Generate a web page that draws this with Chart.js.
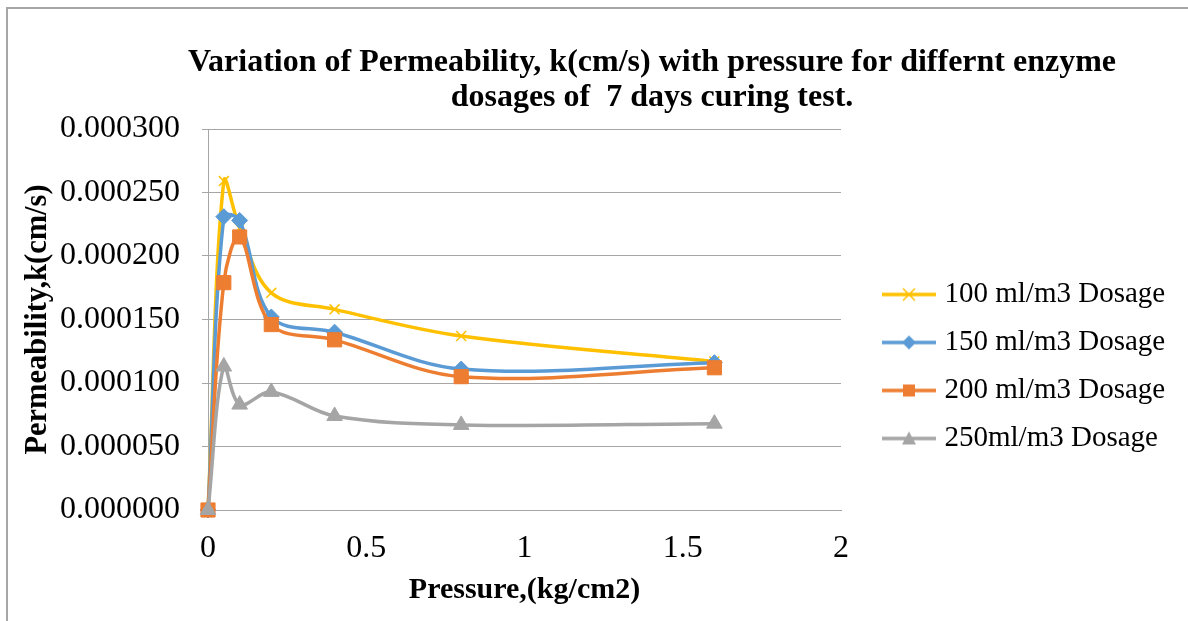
<!DOCTYPE html>
<html>
<head>
<meta charset="utf-8">
<script src="https://cdn.jsdelivr.net/npm/chart.js@4/dist/chart.umd.min.js"></script>
<style>
html, body { margin: 0; padding: 0; background: #fff; }
canvas { display: block; }
</style>
</head>
<body>
<canvas id="grafico" width="1188" height="621"></canvas>
<script>
// valores (pressao em kg/cm2, k em cm/s)
var pressao = [0, 0.05, 0.1, 0.2, 0.4, 0.8, 1.6];
var dosagem100 = [0, 0.000259, 0.000222, 0.000171, 0.000158, 0.000137, 0.000117];
var dosagem150 = [0, 0.000231, 0.000228, 0.000152, 0.000140, 0.000111, 0.000116];
var dosagem200 = [0, 0.000179, 0.000215, 0.000146, 0.000134, 0.000105, 0.000112];
var dosagem250 = [0, 0.000113, 0.000083, 0.000093, 0.000074, 0.000067, 0.000068];
var nomesSeries = ["100 ml/m3 Dosage", "150 ml/m3 Dosage", "200 ml/m3 Dosage", "250ml/m3 Dosage"];
var ticksX = [0, 0.5, 1, 1.5, 2];
var ticksY = [0, 0.00005, 0.0001, 0.00015, 0.0002, 0.00025, 0.0003];

var fonte = "'Liberation Serif', 'Times New Roman', serif";
var cinza = "#a6a6a6";

Chart.defaults.font.family = fonte;
Chart.defaults.color = "#000";

function pontos(valores) {
    return pressao.map(function (p, i) {
        return { x: p, y: valores[i] };
    });
}

// amostra da legenda: linha com o marcador no meio (igual ao Excel)
function amostraLegenda(cor, estilo) {
    var c = document.createElement("canvas");
    c.width = 54;
    c.height = 22;
    var g = c.getContext("2d");
    var cx = 27, cy = 11;
    g.strokeStyle = cor;
    g.fillStyle = cor;
    g.lineWidth = 3.5;
    g.beginPath();
    g.moveTo(0, cy);
    g.lineTo(54, cy);
    g.stroke();
    g.beginPath();
    if (estilo === "crossRot") {
        g.lineWidth = 1.5;
        g.moveTo(cx - 6, cy - 6); g.lineTo(cx + 6, cy + 6);
        g.moveTo(cx + 6, cy - 6); g.lineTo(cx - 6, cy + 6);
        g.stroke();
    } else if (estilo === "rectRot") {
        g.moveTo(cx, cy - 7); g.lineTo(cx + 7, cy); g.lineTo(cx, cy + 7); g.lineTo(cx - 7, cy);
        g.closePath();
        g.fill();
    } else if (estilo === "rect") {
        g.rect(cx - 6, cy - 6, 12, 12);
        g.fill();
    } else {
        g.moveTo(cx, cy - 7); g.lineTo(cx + 7, cy + 6); g.lineTo(cx - 7, cy + 6);
        g.closePath();
        g.fill();
    }
    return c;
}

function serie(nome, valores, cor, estilo, raio, ordem) {
    return {
        label: nome,
        data: pontos(valores),
        borderColor: cor,
        backgroundColor: cor,
        borderWidth: 3.5,
        tension: 0.35,
        pointStyle: estilo,
        pointRadius: raio,
        pointBorderWidth: estilo === "crossRot" ? 1.5 : 1,
        pointBackgroundColor: cor,
        pointBorderColor: cor,
        clip: false,
        order: ordem,
        amostra: amostraLegenda(cor, estilo)
    };
}

var molduraPlugin = {
    id: "moldura",
    beforeDraw: function (chart) {
        var ctx = chart.ctx;
        ctx.save();
        ctx.fillStyle = "#fff";
        ctx.fillRect(0, 0, chart.width, chart.height);
        ctx.strokeStyle = cinza;
        ctx.lineWidth = 2;
        ctx.beginPath();
        ctx.moveTo(7, chart.height);
        ctx.lineTo(7, 8);
        ctx.lineTo(chart.width, 8);
        ctx.stroke();
        ctx.restore();
    },
    afterInit: function (chart) {
        // largura fixa da legenda para a area do grafico terminar em x=841
        var fitOriginal = chart.legend.fit;
        chart.legend.fit = function () {
            fitOriginal.call(this);
            this.width = 347;
        };
    },
    afterLayout: function (chart) {
        var lg = chart.legend;
        lg.left += 28; lg.right += 28;
        lg.top += 56; lg.bottom += 56;
        var tt = chart.titleBlock;
        tt.left += 58; tt.right += 58;
    }
};

new Chart(document.getElementById("grafico"), {
    type: "line",
    data: {
        datasets: [
            serie(nomesSeries[0], dosagem100, "#FFC000", "crossRot", 7, 4),
            serie(nomesSeries[1], dosagem150, "#5B9BD5", "rectRot", 8, 3),
            serie(nomesSeries[2], dosagem200, "#ED7D31", "rect", 10, 2),
            serie(nomesSeries[3], dosagem250, "#A5A5A5", "triangle", 9, 1)
        ]
    },
    options: {
        responsive: false,
        animation: false,
        devicePixelRatio: 1,
        layout: { padding: 0 },
        plugins: {
            tooltip: { enabled: false },
            title: {
                display: true,
                text: ["Variation of Permeability, k(cm/s) with pressure for differnt enzyme", "dosages of  7 days curing test."],
                color: "#000",
                font: { size: 32, weight: "bold", lineHeight: 1.1 },
                padding: { top: 45, bottom: 13.6 }
            },
            legend: {
                position: "right",
                align: "center",
                labels: {
                    usePointStyle: true,
                    pointStyleWidth: 42,
                    padding: 19,
                    color: "#000",
                    font: { size: 29 },
                    generateLabels: function (chart) {
                        return chart.data.datasets.map(function (ds, i) {
                            return {
                                text: ds.label,
                                pointStyle: ds.amostra,
                                fillStyle: ds.borderColor,
                                strokeStyle: ds.borderColor,
                                lineWidth: 0,
                                hidden: false,
                                datasetIndex: i
                            };
                        });
                    }
                }
            }
        },
        scales: {
            x: {
                type: "linear",
                min: 0,
                max: 2,
                afterBuildTicks: function (s) {
                    s.ticks = ticksX.map(function (v) { return { value: v }; });
                },
                afterFit: function (s) { s.height = 111; },
                grid: { display: false, drawTicks: false },
                border: { display: true, color: cinza, width: 1 },
                ticks: {
                    color: "#000",
                    font: { size: 32 },
                    padding: 19,
                    maxRotation: 0,
                    callback: function (v) { return String(v); }
                },
                title: {
                    display: true,
                    text: "Pressure,(kg/cm2)",
                    color: "#000",
                    font: { size: 30, weight: "bold" },
                    padding: { top: 0, bottom: 13 }
                }
            },
            y: {
                min: 0,
                max: 0.0003,
                afterBuildTicks: function (s) {
                    s.ticks = ticksY.map(function (v) { return { value: v }; });
                },
                afterFit: function (s) { s.width = 208; },
                grid: { color: cinza, lineWidth: 1, tickLength: 6, drawTicks: true },
                border: { color: cinza, width: 1 },
                ticks: {
                    color: "#000",
                    font: { size: 32 },
                    padding: 22,
                    callback: function (v) { return Number(v).toFixed(6); }
                },
                title: {
                    display: true,
                    text: "Permeability,k(cm/s)",
                    color: "#000",
                    font: { size: 30.5, weight: "bold" },
                    padding: { top: 20, bottom: 0 }
                }
            }
        }
    },
    plugins: [molduraPlugin]
});
</script>
</body>
</html>
